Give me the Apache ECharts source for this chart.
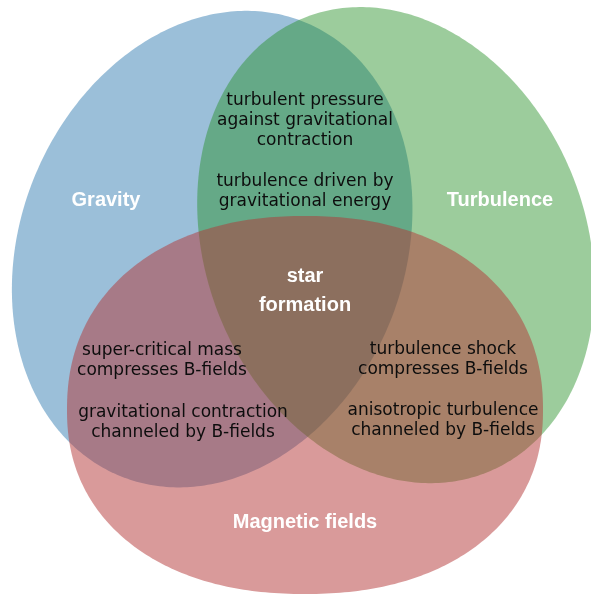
<!DOCTYPE html>
<html>
<head>
<meta charset="utf-8">
<title>Star formation Venn diagram</title>
<script src="https://cdn.jsdelivr.net/npm/echarts@6/dist/echarts.min.js"></script>
<style>
	html, body { margin: 0; padding: 0; background: #ffffff; }
	#chart { width: 591px; height: 597px; }
</style>
</head>
<body>
<div id="chart"></div>
<script>
// the three sets, in drawing order
const setNames = ['Gravity', 'Turbulence', 'Magnetic fields'];
const centerX = [212, 396, 305];
const centerY = [250, 246, 410];
const radiusX = [192, 190, 238];
const radiusTop = [246, 246, 194];
const radiusBottom = [244, 244, 184];
const tilt = [22, -22, 0];        // degrees, top leaning right is positive
const squareness = [2, 2, 2.2];   // 2 = plain ellipse

// the text inside the diagram
const labelText = [
	'Gravity',
	'Turbulence',
	'Magnetic fields',
	'star\nformation',
	'turbulent pressure\nagainst gravitational\ncontraction',
	'turbulence driven by\ngravitational energy',
	'super-critical mass\ncompresses B-fields',
	'gravitational contraction\nchanneled by B-fields',
	'turbulence shock\ncompresses B-fields',
	'anisotropic turbulence\nchanneled by B-fields'
];
const labelX = [106, 500, 305, 305, 305, 305, 162, 183, 443, 443];
const labelY = [200, 200, 522, 291, 121, 192, 361, 423, 360, 421];
const labelKind = ['set', 'set', 'set', 'set', 'note', 'note', 'note', 'note', 'note', 'note'];

const fills = ['rgba(155,191,217,1)', 'rgba(36,142,35,0.45)', 'rgba(179,53,53,0.5)'];

var chart = echarts.init(document.getElementById('chart'), null, { renderer: 'canvas' });

function renderSet(params, api) {
	var cx = api.value(0), cy = api.value(1);
	var rx = api.value(2), ryTop = api.value(3), ryBottom = api.value(4);
	var t = api.value(5) * Math.PI / 180;
	var n = api.value(6);
	var points = [];
	var steps = 360;
	for (var k = 0; k < steps; k++) {
		var a = k / steps * Math.PI * 2;
		var c = Math.cos(a), s = Math.sin(a);
		var lx = rx * Math.sign(c) * Math.pow(Math.abs(c), 2 / n);
		var ly = (s < 0 ? ryTop : ryBottom) * Math.sign(s) * Math.pow(Math.abs(s), 2 / n);
		// rotate, y grows downward on the inverted axis
		var x = cx + lx * Math.cos(t) - ly * Math.sin(t);
		var y = cy + lx * Math.sin(t) + ly * Math.cos(t);
		points.push(api.coord([x, y]));
	}
	return {
		type: 'polygon',
		shape: { points: points, smooth: 0 },
		style: { fill: fills[params.dataIndex], stroke: null }
	};
}

function renderLabel(params, api) {
	var i = params.dataIndex;
	var p = api.coord([api.value(0), api.value(1)]);
	var isSet = labelKind[i] === 'set';
	return {
		type: 'text',
		x: p[0],
		y: p[1],
		style: {
			text: labelText[i],
			fill: isSet ? '#ffffff' : '#0d0d0d',
			font: isSet ? 'bold 20px "Liberation Sans", Arial, sans-serif'
				: '17px "DejaVu Sans", sans-serif',
			lineHeight: isSet ? 29 : 20,
			align: 'center',
			verticalAlign: 'middle'
		}
	};
}

var setData = setNames.map(function (name, i) {
	return {
		name: name,
		value: [centerX[i], centerY[i], radiusX[i], radiusTop[i], radiusBottom[i], tilt[i], squareness[i]]
	};
});

var labelData = labelText.map(function (text, i) {
	return { name: text, value: [labelX[i], labelY[i]] };
});

chart.setOption({
	animation: false,
	backgroundColor: '#ffffff',
	grid: { left: 0, right: 0, top: 0, bottom: 0 },
	xAxis: { type: 'value', min: 0, max: 591, show: false },
	yAxis: { type: 'value', min: 0, max: 597, inverse: true, show: false },
	series: [
		{
			type: 'custom',
			name: 'sets',
			renderItem: renderSet,
			data: setData,
			silent: true
		},
		{
			type: 'custom',
			name: 'labels',
			renderItem: renderLabel,
			data: labelData,
			silent: true,
			z: 3
		}
	]
});
</script>
</body>
</html>
